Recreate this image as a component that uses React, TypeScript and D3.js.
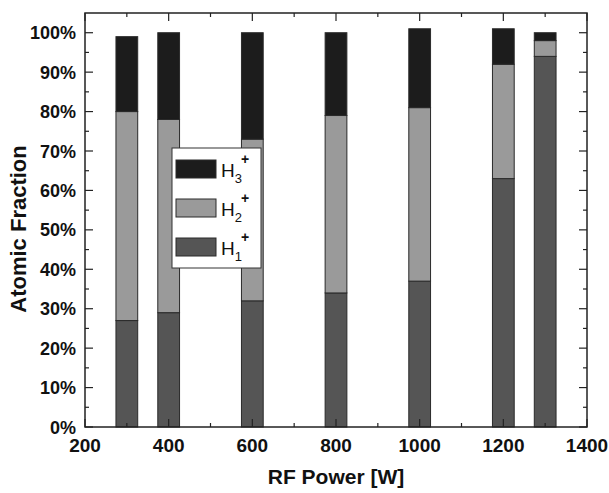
import React from "react";
import * as d3 from "d3";

const powers = [300, 400, 600, 800, 1000, 1200, 1300];
const h1 = [27, 29, 32, 34, 37, 63, 94];
const h2 = [53, 49, 41, 45, 44, 29, 4];
const h3 = [19, 22, 27, 21, 20, 9, 2];
const seriesNames = ["H1", "H2", "H3"];
const seriesColors = ["#555555", "#9a9a9a", "#1c1c1c"];
const xMajorTicks = [200, 400, 600, 800, 1000, 1200, 1400];
const xMinorTicks = [300, 500, 700, 900, 1100, 1300];
const yMajorTicks = [0, 10, 20, 30, 40, 50, 60, 70, 80, 90, 100];
const yMinorTicks = [5, 15, 25, 35, 45, 55, 65, 75, 85, 95];

const W = 609, H = 493;
const L = 85, R = 587, T = 13, B = 427;
const barW = 52;

export default function App() {
  const x = d3.scaleLinear().domain([200, 1400]).range([L, R]);
  const y = d3.scaleLinear().domain([0, 105]).range([B, T]);
  const rows = powers.map((p, i) => ({ p, H1: h1[i], H2: h2[i], H3: h3[i] }));
  const stack = d3.stack<any>().keys(seriesNames)(rows);
  const bw = x(200 + barW) - x(200);
  const font = "'Liberation Sans', Arial, sans-serif";
  const axisColor = "#222";
  return (
    <svg width={W} height={H} style={{ position: "absolute", left: 0, top: 0, background: "#fff" }} fontFamily={font}>
      {stack.map((s, si) =>
        s.map((d, i) => (
          <rect key={si + "-" + i} x={x(rows[i].p) - bw / 2} y={y(d[1])} width={bw} height={y(d[0]) - y(d[1])}
            fill={seriesColors[si]} stroke="#2a2a2a" strokeWidth={1} />
        ))
      )}
      <rect x={L} y={T} width={R - L} height={B - T} fill="none" stroke={axisColor} strokeWidth={1.5} />
      {xMajorTicks.map((t) => (
        <g key={"xm" + t}>
          <line x1={x(t)} x2={x(t)} y1={B} y2={B - 8} stroke={axisColor} strokeWidth={1.2} />
          <line x1={x(t)} x2={x(t)} y1={T} y2={T + 8} stroke={axisColor} strokeWidth={1.2} />
          <text x={x(t)} y={452} textAnchor="middle" fontSize={19} fontWeight="bold" fill="#111">{t}</text>
        </g>
      ))}
      {xMinorTicks.map((t) => (
        <g key={"xn" + t}>
          <line x1={x(t)} x2={x(t)} y1={B} y2={B - 4} stroke={axisColor} strokeWidth={1.2} />
          <line x1={x(t)} x2={x(t)} y1={T} y2={T + 4} stroke={axisColor} strokeWidth={1.2} />
        </g>
      ))}
      {yMajorTicks.map((t) => (
        <g key={"ym" + t}>
          <line x1={L} x2={L + 8} y1={y(t)} y2={y(t)} stroke={axisColor} strokeWidth={1.2} />
          <line x1={R} x2={R - 8} y1={y(t)} y2={y(t)} stroke={axisColor} strokeWidth={1.2} />
          <text x={76} y={y(t) + 6.5} textAnchor="end" fontSize={18} fontWeight="bold" fill="#111">{t + "%"}</text>
        </g>
      ))}
      {yMinorTicks.map((t) => (
        <g key={"yn" + t}>
          <line x1={L} x2={L + 4} y1={y(t)} y2={y(t)} stroke={axisColor} strokeWidth={1.2} />
          <line x1={R} x2={R - 4} y1={y(t)} y2={y(t)} stroke={axisColor} strokeWidth={1.2} />
        </g>
      ))}
      <text x={(L + R) / 2} y={484} textAnchor="middle" fontSize={21} fontWeight="bold" fill="#111">RF Power [W]</text>
      <text transform={`translate(26, 229) rotate(-90)`} textAnchor="middle" fontSize={22} fontWeight="bold" fill="#111">Atomic Fraction</text>
      <g>
        <rect x={172} y={148} width={89} height={120} fill="#fff" stroke="#333" strokeWidth={1} />
        {[2, 1, 0].map((si, k) => {
          const yy = 160 + k * 39;
          return (
            <g key={"lg" + si}>
              <rect x={176} y={yy} width={40} height={18} fill={seriesColors[si]} stroke="#2a2a2a" strokeWidth={1} />
              <text x={221} y={yy + 17} fontSize={19} fill="#111">
                H
                <tspan fontSize={13} dy={6}>{String(si + 1)}</tspan>
                <tspan fontSize={14} fontWeight="bold" dy={-19} dx={-1}>+</tspan>
              </text>
            </g>
          );
        })}
      </g>
    </svg>
  );
}
